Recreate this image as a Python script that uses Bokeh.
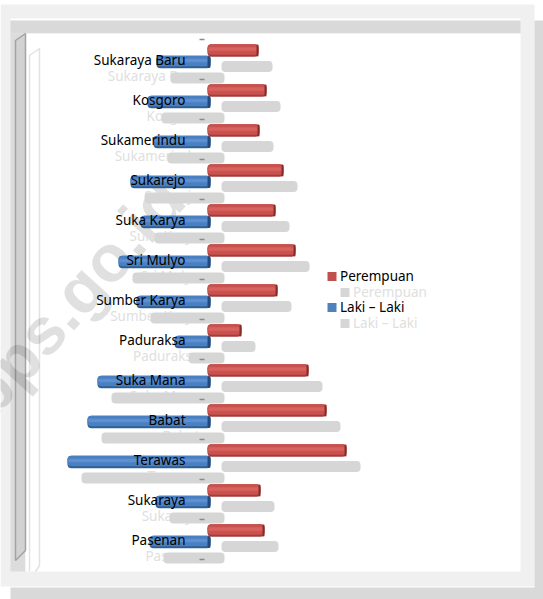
from bokeh.plotting import figure
from bokeh.models import Range1d, ColumnDataSource
from bokeh.core.properties import value
from bokeh.transform import dodge
from bokeh.embed import file_html
from bokeh.resources import INLINE
import math

# chart data (top to bottom), in the chart's value units
categories = ["Sukaraya Baru", "Kosgoro", "Sukamerindu", "Sukarejo", "Suka Karya", "Sri Mulyo",
              "Sumber Karya", "Paduraksa", "Suka Mana", "Babat", "Terawas", "Sukaraya", "Pasenan"]
perempuan = [51, 59, 52, 76, 68, 88, 70, 34, 101, 119, 139, 53, 57]
laki = [52, 61, 55, 78, 68, 90, 72, 34, 111, 121, 141, 53, 59]
legend_labels = ["Perempuan", "Laki \u2013 Laki"]

FONT = value("Noto Sans")
FS = "13.5px"
PX = 1 / 40.0

p = figure(width=543, height=599, output_backend="svg", toolbar_location=None,
           x_range=Range1d(-208, 335),
           y_range=Range1d((599 - 59) / 40, -59 / 40),
           min_border=0, outline_line_color=None, background_fill_color="white",
           border_fill_color="white")
p.axis.visible = False
p.grid.visible = False
p.extra_x_ranges["px"] = Range1d(0, 543)
p.extra_y_ranges["px"] = Range1d(599, 0)
PXR = dict(x_range_name="px", y_range_name="px")

def panel(l, r, t, b, c):
    p.quad(left=[l], right=[r], top=[t], bottom=[b], fill_color=c, line_color=None, **PXR)

# frame panels
panel(0, 534, 4, 586, "#f0f0f0")
panel(534, 543, 20, 599, "#d9d9d9")
panel(10, 543, 587, 599, "#d9d9d9")
panel(10, 520, 18, 20, "#ffffff")
panel(10, 520, 20, 33, "#d9d9d9")
panel(10, 25, 33, 571, "#dcdcdc")
panel(25, 520, 33, 571, "#ffffff")
# side walls
p.patch([15, 25, 25, 15], [40, 33, 550, 560], fill_color="#d2d2d2", line_color="#a3a3a3", line_width=1.5, **PXR)
p.line([29, 29, 39, 39, 35], [571, 55, 48, 565, 571], line_color="#e2e2e2", line_width=1.5, **PXR)

# watermark
p.text(x=[-25], y=[405], text=["bps.go.id"], angle=[math.radians(48)], text_font=value("Liberation Sans"),
       text_font_style="bold", text_font_size="66px", text_color="#000000", text_alpha=0.12,
       text_align="left", text_baseline="alphabetic", **PXR)

src = ColumnDataSource(dict(idx=list(range(len(categories))), cat=categories, p=perempuan, l=laki,
                            pn=[v - 1 for v in perempuan], ln=[-v for v in laki]))
y = lambda off: dodge("idx", off * PX)

# reflection texts and bars
p.text(x=-9, y=y(16), text="cat", source=src, text_font=FONT, text_font_size=FS, text_color="#e0e0e0",
       text_align="right", text_baseline="middle")
GREY = "#d6d6d6"
p.hbar(y=y(7), left=13, right=dodge("p", 13), height=11 * PX, source=src, fill_color=GREY, line_color=None, border_radius=4)
p.hbar(y=y(18.5), left=dodge("ln", 14), right=16, height=11 * PX, source=src, fill_color=GREY, line_color=None, border_radius=4)

# axis tick dashes on the category boundaries
p.segment(x0=-9, x1=-4, y0=y(-20), y1=y(-20), source=src, line_color="#8a8a8a", line_width=1.3)
p.segment(x0=-9, x1=-4, y0=y(20), y1=y(20), source=ColumnDataSource(dict(idx=[len(categories) - 1])), line_color="#8a8a8a", line_width=1.3)

def cylinder(yoff, left, right, dark, body, light):
    h = dict(source=src, line_color=None)
    p.hbar(y=y(yoff), left=left, right=right, height=12.5 * PX, fill_color=dark, border_radius=4, **h)
    p.hbar(y=y(yoff - 1), left=left, right=right, height=10.5 * PX, fill_color=body, border_radius=4, **h)
    p.hbar(y=y(yoff - 1.5), left=dodge(left, 1) if isinstance(left, str) else left + 1,
           right=dodge(right, -1) if isinstance(right, str) else right - 1,
           height=3.5 * PX, fill_color=light, **h)

# Laki - Laki (blue)
cylinder(2.5, "ln", 2, "#2f5f97", "#4a7fc0", "#5c90d2")
p.hbar(y=y(2.5), left=-1, right=2, height=12 * PX, source=src, fill_color="#234a78", line_color=None, border_radius=3)
# Perempuan (red)
cylinder(-9, -1, "pn", "#a23c3a", "#c9524f", "#d8625e")
p.hbar(y=y(-9), left=dodge("pn", -2), right="pn", height=12 * PX, source=src, fill_color="#832c2a", line_color=None, border_radius=3)

# category labels
p.text(x=-23, y=y(0), text="cat", source=src, text_font=FONT, text_font_size=FS, text_color="#000000",
       text_align="right", text_baseline="middle")

# legend
leg = [(327, 276, "#c0504d", legend_labels[0], "#000000", 339.5),
       (340, 292, GREY, legend_labels[0], "#e0e0e0", 352.5),
       (327, 307, "#4f81bd", legend_labels[1], "#000000", 339.5),
       (340, 323, GREY, legend_labels[1], "#e0e0e0", 352.5)]
for sx, sy, c, t, tc, tx in leg:
    panel(sx, sx + 9, sy - 4.5, sy + 4.5, c)
    p.text(x=[tx], y=[sy - 1], text=[t], text_font=FONT, text_font_size=FS, text_color=tc,
           text_align="left", text_baseline="middle", **PXR)

open("out.html", "w").write(file_html(p, INLINE))
